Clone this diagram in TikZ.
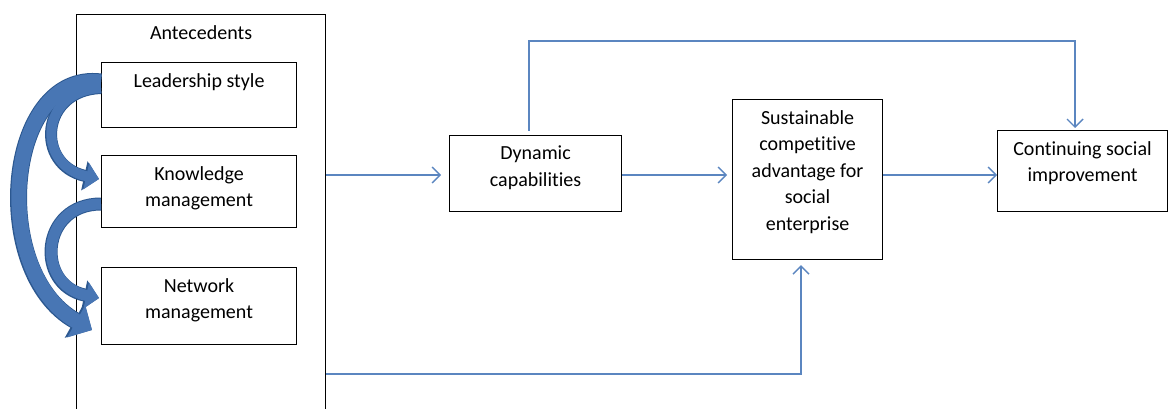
\documentclass[tikz,border=0pt]{standalone}
\usepackage{fontspec}
\setmainfont[Ligatures=NoCommon]{Carlito}
\usetikzlibrary{arrows.meta}
\definecolor{flow}{HTML}{5B86C0}
\definecolor{ribbon}{HTML}{4876B4}
\definecolor{ribbonedge}{HTML}{2C5890}

\begin{document}
\begin{tikzpicture}[x=1pt,y=-1pt,
  box/.style={draw=black, line width=1.1pt, rectangle, inner sep=0pt, anchor=north west},
  txt/.style={anchor=north, align=center, inner sep=0pt, yshift=-11pt,
    font=\fontsize{20}{26.5}\selectfont},
  flowarrow/.style={draw=flow, line width=1.4pt,
    -{Straight Barb[length=8pt,width=16pt,line width=1.4pt]}},
  ribbonback/.style args={#1/#2/#3}{draw=ribbonedge, line width=#1+2pt,
    -{Triangle[length=#2+2pt,width=#3+3pt]}},
  ribbonfront/.style args={#1/#2/#3}{draw=ribbon, line width=#1,
    -{Triangle[length=#2,width=#3]}}
]
\clip (0,0) rectangle (1169,409);

% antecedents column
\node[box, minimum width=249pt, minimum height=420pt,
      label={[txt]north:Antecedents}] (ant) at (76,14) {};
\node[box, minimum width=195pt, minimum height=65pt,
      label={[txt]north:Leadership style}] (ls) at (101,62) {};
\node[box, minimum width=195pt, minimum height=72pt,
      label={[txt]north:Knowledge\\management}] (km) at (101,155) {};
\node[box, minimum width=195pt, minimum height=77pt,
      label={[txt]north:Network\\management}] (nm) at (101,267) {};

% outcome chain
\node[box, minimum width=172pt, minimum height=76pt,
      label={[txt]north:Dynamic\\capabilities}] (dc) at (449,135) {};
\node[box, minimum width=150pt, minimum height=160pt,
      label={[txt]north:Sustainable\\competitive\\advantage for\\social\\enterprise}] (sca) at (732,99) {};
\node[box, minimum width=170pt, minimum height=81pt,
      label={[txt]north:Continuing social\\improvement}] (csi) at (997,130) {};

% routing points
\coordinate (row) at (0,175);
\coordinate (low) at (0,374);
\coordinate (top) at (0,41);
\coordinate (upx) at (529,0);
\coordinate (dnx) at (1075,0);
\coordinate (inx) at (801,0);

% connectors
\draw[flowarrow, shorten >=8pt] (ant.east |- row) -- (dc.west |- row);
\draw[flowarrow, shorten >=5pt] (dc.east |- row) -- (sca.west |- row);
\draw[flowarrow] (sca.east |- row) -- (csi.west |- row);
\draw[flowarrow, shorten <=4pt, shorten >=2pt]
  (upx |- dc.north) -- (upx |- top) -| (dnx |- csi.north);
\draw[flowarrow, shorten >=5pt]
  (ant.east |- low) -| (inx |- sca.south);

% curved links among the antecedents
\coordinate (lsa) at (101,82);
\coordinate (lsb) at (101,88);
\coordinate (kma) at (99,179);
\coordinate (kmb) at (101,204);
\coordinate (nma) at (99,298);
\coordinate (nmb) at (92,330);

\foreach \lay in {ribbonback, ribbonfront} {
  \draw[\lay={15pt/18pt/36pt}] (lsa) .. controls (5,70) and (-12,272) .. (nmb);
  \draw[\lay={10pt/13pt/26pt}] (lsb) .. controls (40,90) and (35,165) .. (kma);
  \draw[\lay={11pt/13pt/26pt}] (kmb) .. controls (40,204) and (35,285) .. (nma);
}
\end{tikzpicture}
\end{document}
